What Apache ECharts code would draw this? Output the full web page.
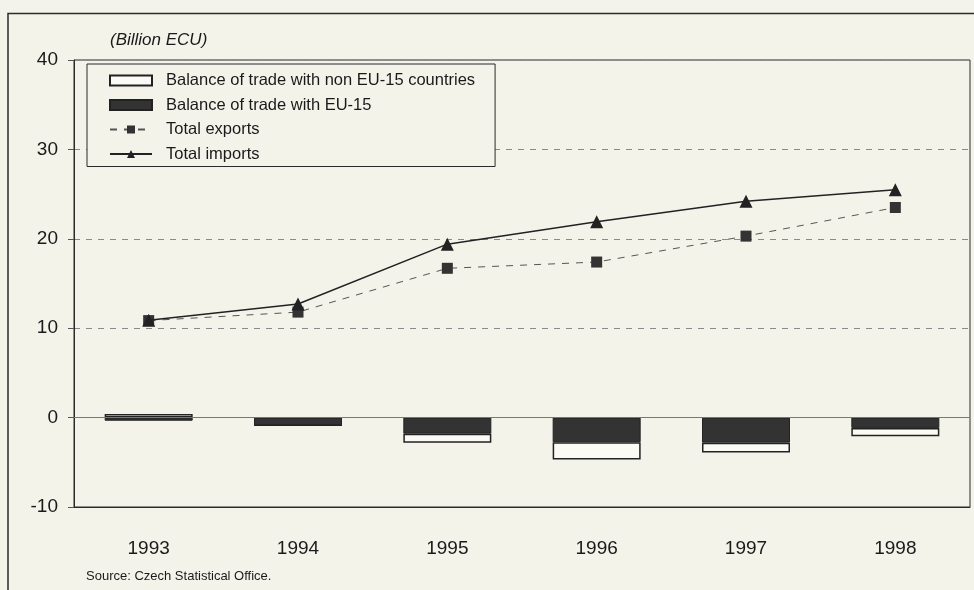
<!DOCTYPE html>
<html>
<head>
<meta charset="utf-8">
<script src="https://cdn.jsdelivr.net/npm/echarts@6/dist/echarts.min.js"></script>
<style>
html,body{margin:0;padding:0;background:#f4f3ea;}
#chart{width:974px;height:590px;}
</style>
</head>
<body>
<div id="chart"></div>
<script>
var years = ['1993', '1994', '1995', '1996', '1997', '1998'];
var balanceNonEU = [0.4, 0, -1.0, -1.95, -1.1, -0.95];
var balanceEU = [-0.35, -0.85, -1.8, -2.75, -2.8, -1.15];
var totalExports = [10.85, 11.8, 16.7, 17.4, 20.3, 23.5];
var totalImports = [10.9, 12.7, 19.4, 21.9, 24.2, 25.5];
var yTicks = [-10, 0, 10, 20, 30, 40];

var FONT = '"Liberation Sans", Arial, sans-serif';
var BG = '#f4f3ea';
var chart = echarts.init(document.getElementById('chart'), null, {renderer: 'canvas'});

chart.setOption({
  backgroundColor: BG,
  animation: false,
  textStyle: {fontFamily: FONT},
  grid: {left: 74, right: 4, top: 60, bottom: 83, show: true, borderColor: '#2a2a2a', borderWidth: 1, backgroundColor: 'transparent'},
  legend: {
    orient: 'vertical', left: 87, top: 64,
    padding: [8, 20, 4, 22],
    itemGap: 7.5, itemWidth: 42, itemHeight: 10,
    backgroundColor: BG, borderColor: '#2a2a2a', borderWidth: 1,
    textStyle: {fontSize: 16.5, color: '#1a1a1a', fontFamily: FONT, padding: [0, 0, 0, 9]},
    data: [
      {name: 'Balance of trade with non EU-15 countries', icon: 'rect'},
      {name: 'Balance of trade with EU-15', icon: 'rect'},
      {name: 'Total exports'},
      {name: 'Total imports'}
    ]
  },
  xAxis: {
    type: 'category', data: years,
    axisLine: {onZero: false, lineStyle: {color: '#2a2a2a', width: 1}},
    axisTick: {show: false},
    axisLabel: {fontSize: 19, color: '#1a1a1a', margin: 32, fontFamily: FONT}
  },
  yAxis: {
    type: 'value', min: yTicks[0], max: yTicks[yTicks.length - 1], interval: 10,
    axisLine: {show: true, lineStyle: {color: '#2a2a2a'}},
    axisTick: {show: true, length: 6, lineStyle: {color: '#555'}},
    axisLabel: {fontSize: 19, color: '#1a1a1a', margin: 16, fontFamily: FONT},
    splitLine: {show: true, lineStyle: {color: '#8a8a8a', type: [6, 6], width: 1}}
  },
  graphic: [
    {type: 'polyline', shape: {points: [[8, 590], [8, 13.5], [974, 13.5]]}, style: {stroke: '#2a2a2a', lineWidth: 1.5, fill: null}},
    {type: 'text', left: 110, top: 32, style: {text: '(Billion ECU)', font: 'italic 17px ' + FONT, fill: '#1a1a1a'}},
    {type: 'text', left: 86, top: 570, style: {text: 'Source: Czech Statistical Office.', font: '13px ' + FONT, fill: '#1a1a1a'}}
  ],
  series: [
    {
      name: 'Balance of trade with EU-15', type: 'bar', stack: 'bal', barWidth: 88,
      data: balanceEU,
      itemStyle: {color: '#333333', borderColor: '#222', borderWidth: 1},
      markLine: {silent: true, symbol: 'none', label: {show: false},
        lineStyle: {color: '#777', type: 'solid', width: 1}, data: [{yAxis: 0}]},
      z: 2
    },
    {
      name: 'Balance of trade with non EU-15 countries', type: 'bar', stack: 'bal', barWidth: 88,
      data: balanceNonEU,
      itemStyle: {color: '#fbfbf6', borderColor: '#222', borderWidth: 1.5},
      z: 2
    },
    {
      name: 'Total exports', type: 'line', data: totalExports,
      symbol: 'rect', symbolSize: 11,
      itemStyle: {color: '#333333'},
      lineStyle: {color: '#555', width: 1, type: [7, 7]},
      z: 4
    },
    {
      name: 'Total imports', type: 'line', data: totalImports,
      symbol: 'triangle', symbolSize: 13,
      itemStyle: {color: '#222'},
      lineStyle: {color: '#222', width: 1.5},
      z: 5
    }
  ]
});
</script>
</body>
</html>
